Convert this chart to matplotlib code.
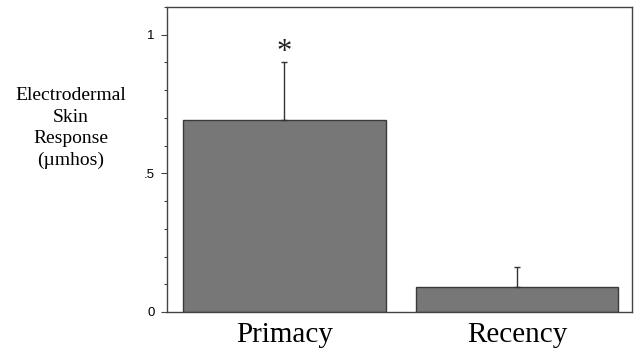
import numpy as np
import matplotlib.pyplot as plt
from matplotlib.ticker import MultipleLocator

# data
groups = ["Primacy", "Recency"]
means = [0.693, 0.090]
errs = [0.207, 0.073]

fig = plt.figure(figsize=(6.34, 3.54), dpi=100)
ax = fig.add_axes([167/634, 1 - 312/354, (632-167)/634, (312-7)/354])

x = np.arange(len(groups))
ax.bar(x, means, width=0.87, color="#777777", edgecolor="#3a3a3a", linewidth=1)
ax.errorbar(x, means, yerr=[np.zeros(len(errs)), errs], fmt="none",
            ecolor="#333333", elinewidth=1, capsize=2, capthick=1)
ax.text(x[0], means[0] + errs[0] + 0.035, "*", ha="center", va="center",
        fontsize=22, family="Liberation Serif", color="#222222")

ax.set_xlim(-0.505, 1.495)
ax.set_ylim(0, 1.10)
ax.set_xticks(x)
ax.set_xticklabels(groups, family="Liberation Serif", fontsize=21)
ax.tick_params(axis="x", length=0, pad=7)
ax.set_yticks([0, 0.5, 1])
ax.set_yticklabels(["0", ".5", "1"], family="Liberation Sans", fontsize=9.5)
ax.yaxis.set_minor_locator(MultipleLocator(0.1))
ax.tick_params(axis="y", which="major", length=4, width=0.8, pad=5, color="#444444")
ax.tick_params(axis="y", which="minor", length=2, width=0.8, color="#444444")

for s in ax.spines.values():
    s.set_color("#444444")
    s.set_linewidth(1)

fig.text(71/634, 1 - 128/354, "Electrodermal\nSkin\nResponse\n(\u00b5mhos)",
         ha="center", va="center", family="Liberation Serif", fontsize=14,
         linespacing=1.33)

fig.savefig("out.png", dpi=100)
